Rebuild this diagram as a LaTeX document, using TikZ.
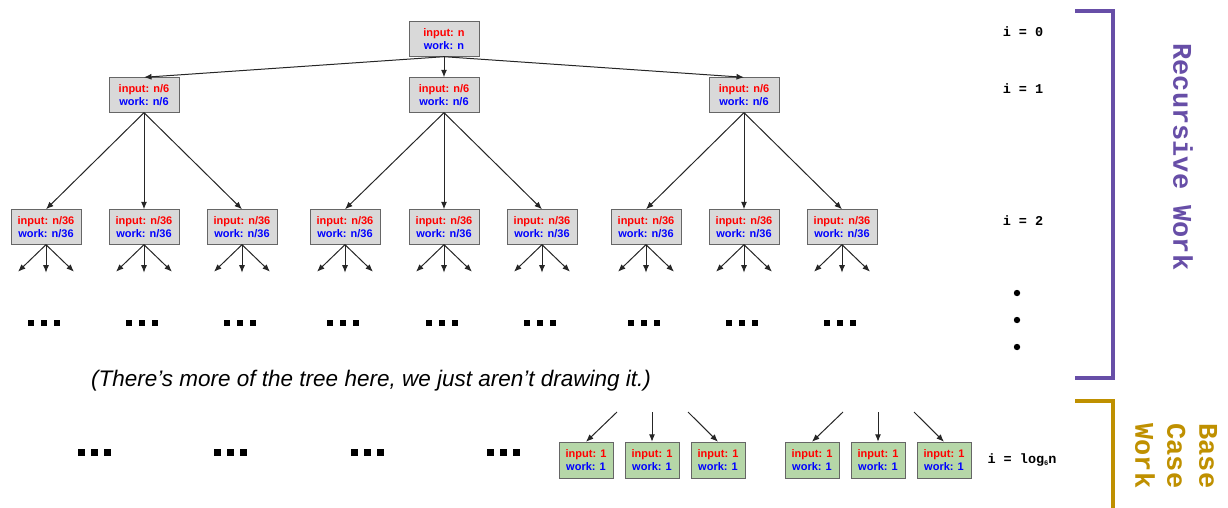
\documentclass[tikz,border=0pt]{standalone}
\usepackage{fontspec}
\setsansfont{Liberation Sans}
\setmonofont{Liberation Mono}
\usetikzlibrary{arrows.meta}

\definecolor{boxgray}{RGB}{217,217,217}
\definecolor{boxgreen}{RGB}{182,215,168}
\definecolor{recpurple}{RGB}{103,78,167}
\definecolor{basegold}{RGB}{191,144,0}

\newcommand{\inwork}[1]{\textcolor{red}{input: #1}\\\textcolor{blue}{work: #1}}

\begin{document}
\begin{tikzpicture}[x=1pt,y=-1pt,
  box/.style={draw=black!60, fill=boxgray, minimum width=70pt, minimum height=35pt, inner sep=0pt, align=center, font=\sffamily\bfseries\fontsize{11}{13}\selectfont},
  leaf/.style={box, fill=boxgreen, minimum width=54pt, minimum height=36pt},
  arr/.style={-{Latex[length=7.5pt,width=6pt]}, line width=1pt, black!85},
  lvl/.style={font=\ttfamily\bfseries\fontsize{13.5}{16}\selectfont},
  side/.style={rotate=-90, font=\ttfamily\bfseries\fontsize{27}{32}\selectfont}]
\useasboundingbox (0,0) rectangle (1228,508);

\node [box] (T) at (444,39) {\inwork{n}};
\node [box] (A) at (144,95) {\inwork{n/6}};
\node [box] (B) at (444,95) {\inwork{n/6}};
\node [box] (C) at (744,95) {\inwork{n/6}};

\node [box] (D) at (46,227) {\inwork{n/36}};
\node [box] (E) at (144,227) {\inwork{n/36}};
\node [box] (F) at (242,227) {\inwork{n/36}};
\node [box] (G) at (345,227) {\inwork{n/36}};
\node [box] (H) at (444,227) {\inwork{n/36}};
\node [box] (I) at (542,227) {\inwork{n/36}};
\node [box] (J) at (646,227) {\inwork{n/36}};
\node [box] (K) at (744,227) {\inwork{n/36}};
\node [box] (L) at (842,227) {\inwork{n/36}};

\draw [arr] (T.south) -- (A.north);
\draw [arr] (T.south) -- (B.north);
\draw [arr] (T.south) -- (C.north);
\draw [arr] (A.south) -- (D.north);
\draw [arr] (A.south) -- (E.north);
\draw [arr] (A.south) -- (F.north);
\draw [arr] (B.south) -- (G.north);
\draw [arr] (B.south) -- (H.north);
\draw [arr] (B.south) -- (I.north);
\draw [arr] (C.south) -- (J.north);
\draw [arr] (C.south) -- (K.north);
\draw [arr] (C.south) -- (L.north);

\foreach \n in {D,E,F,G,H,I,J,K,L} {
  \path (\n.south) ++(-28,27) coordinate (\n1)
        (\n.south) ++(0,28) coordinate (\n2)
        (\n.south) ++(28,27) coordinate (\n3);
  \draw [arr] (\n.south) -- (\n1);
  \draw [arr] (\n.south) -- (\n2);
  \draw [arr] (\n.south) -- (\n3);
}

% dots under the third level
\foreach \x in {44,142,240,343,442,540,644,742,840}
  \foreach \d in {-13,0,13}
    \fill (\x+\d-3,320) rectangle ++(6,6);
\foreach \x in {94,230,367,503}
  \foreach \d in {-13,0,13}
    \fill (\x+\d-3,449) rectangle ++(6.5,6.5);

\node [font=\sffamily\itshape\fontsize{22.5}{26}\selectfont] (note) at (371,381) {(There’s more of the tree here, we just aren’t drawing it.)};

\node [leaf] (U) at (586,460) {\inwork{1}};
\node [leaf] (V) at (652,460) {\inwork{1}};
\node [leaf] (W) at (718,460) {\inwork{1}};
\node [leaf] (X) at (812,460) {\inwork{1}};
\node [leaf] (Y) at (878,460) {\inwork{1}};
\node [leaf] (Z) at (944,460) {\inwork{1}};
\coordinate (U0) at (617,412);
\coordinate (V0) at (652,412);
\coordinate (W0) at (688,412);
\coordinate (X0) at (843,412);
\coordinate (Y0) at (878,412);
\coordinate (Z0) at (914,412);
\draw [arr] (U0) -- (U.north);
\draw [arr] (V0) -- (V.north);
\draw [arr] (W0) -- (W.north);
\draw [arr] (X0) -- (X.north);
\draw [arr] (Y0) -- (Y.north);
\draw [arr] (Z0) -- (Z.north);

\node [lvl] (i0) at (1023,32) {i = 0};
\node [lvl] (i1) at (1023,89) {i = 1};
\node [lvl] (i2) at (1023,221) {i = 2};
\node [lvl] (ilog) at (1022,460) {i = log\raisebox{-0.35ex}{\fontsize{7}{8}\selectfont 6}n};
\fill (1017,293) circle (3.2);
\fill (1017,320) circle (3.2);
\fill (1017,347) circle (3.2);

\draw [recpurple, line width=4pt] (1075,11) -- (1113,11) -- (1113,378) -- (1075,378);
\draw [basegold, line width=4pt] (1075,401) -- (1113,401) -- (1113,510);
\node [side, text=recpurple] (rec) at (1183,157) {Recursive Work};
\node [side, text=basegold, align=left] (base) at (1176,456) {Base\\Case\\Work};
\end{tikzpicture}
\end{document}
